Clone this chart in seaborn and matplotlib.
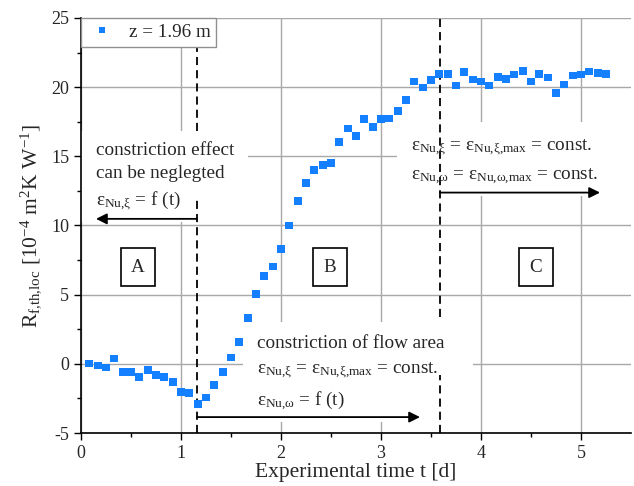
import matplotlib
matplotlib.use("Agg")
import matplotlib.pyplot as plt
from matplotlib.patches import Rectangle
import seaborn as sns
import pandas as pd

# ---- data ----
time_d = [0.083, 0.167, 0.25, 0.333, 0.417, 0.5, 0.583, 0.667, 0.75, 0.833, 0.917, 1.0,
          1.083, 1.167, 1.25, 1.333, 1.417, 1.5, 1.583, 1.667, 1.75, 1.833, 1.917, 2.0,
          2.083, 2.167, 2.25, 2.333, 2.417, 2.5, 2.583, 2.667, 2.75, 2.833, 2.917, 3.0,
          3.083, 3.167, 3.25, 3.333, 3.417, 3.5, 3.583, 3.667, 3.75, 3.833, 3.917, 4.0,
          4.083, 4.167, 4.25, 4.333, 4.417, 4.5, 4.583, 4.667, 4.75, 4.833, 4.917, 5.0,
          5.083, 5.167, 5.25]
r_f = [0.02, -0.12, -0.27, 0.39, -0.60, -0.58, -0.94, -0.43, -0.80, -0.94, -1.33, -2.05,
       -2.10, -2.92, -2.44, -1.55, -0.58, 0.46, 1.57, 3.33, 5.07, 6.33, 7.05, 8.31,
       10.0, 11.76, 13.09, 14.0, 14.36, 14.53, 16.02, 17.01, 16.45, 17.71, 17.11, 17.69,
       17.74, 18.28, 19.08, 20.41, 19.98, 20.51, 20.97, 20.97, 20.12, 21.09, 20.56, 20.41,
       20.12, 20.73, 20.58, 20.92, 21.17, 20.41, 20.95, 20.70, 19.56, 20.19, 20.83, 20.92,
       21.14, 21.02, 20.97]
series_label = "z = 1.96 m"
t_AB = 1.16
t_BC = 3.59
phase_labels = ["A", "B", "C"]
phase_x = [0.57, 2.49, 4.55]
x_ticks = [0, 1, 2, 3, 4, 5]
y_ticks = [-5, 0, 5, 10, 15, 20, 25]

df = pd.DataFrame({"t": time_d, "R": r_f, "series": series_label})

# ---- style ----
sns.set_style("ticks")
plt.rcParams["font.family"] = ["Liberation Serif", "DejaVu Serif"]
plt.rcParams["mathtext.fontset"] = "custom"
plt.rcParams["mathtext.rm"] = "Liberation Serif"
plt.rcParams["mathtext.it"] = "Liberation Serif"
plt.rcParams["mathtext.bf"] = "Liberation Serif:bold"
plt.rcParams["axes.unicode_minus"] = False

fig = plt.figure(figsize=(6.34, 4.86), dpi=100)
ax = fig.add_axes([81 / 634, 53 / 486, 550 / 634, 415 / 486])

blue = "#1580FF"
grid_c = "#a8a8a8"

sns.scatterplot(data=df, x="t", y="R", hue="series", palette=[blue], marker="s",
                s=30, edgecolor="none", linewidth=0, ax=ax, zorder=5)

ax.set_xlim(0, 5.5)
ax.set_ylim(-5, 25)
ax.set_xticks(x_ticks)
ax.set_yticks(y_ticks)
ax.set_xticks([0.5, 1.5, 2.5, 3.5, 4.5], minor=True)
ax.set_yticks([-2.5, 2.5, 7.5, 12.5, 17.5, 22.5], minor=True)
ax.tick_params(axis="both", which="major", direction="out", length=5, width=1,
               labelsize=13, color="k")
ax.tick_params(axis="both", which="minor", direction="out", length=3, width=1, color="k")
ax.tick_params(axis="x", which="both", top=False)
ax.tick_params(axis="y", which="both", right=False)

ax.grid(True, which="major", color=grid_c, lw=1.0, zorder=0.5)
ax.set_axisbelow(True)
for s in ["top", "right"]:
    ax.spines[s].set_visible(False)
for s in ["left", "bottom"]:
    ax.spines[s].set_linewidth(1.2)
    ax.spines[s].set_color("k")

ax.set_xlabel("Experimental time t [d]", fontsize=15.5, labelpad=1)
ax.set_ylabel(r"R$_{\mathrm{f{,}th{,}loc}}$ [10$^{-4}$ m$^{2}$K W$^{-1}$]", fontsize=15.5, labelpad=5)

# white masks behind annotation blocks
for (x0, y0, w, h) in [(0.0, 10.25, 1.67, 6.6), (1.62, -4.2, 2.30, 7.25), (3.16, 12.1, 2.34, 5.4)]:
    ax.add_patch(Rectangle((x0, y0), w, h, facecolor="white", edgecolor="none", zorder=1))

# phase boundaries (dashed, with gaps behind text)
dash_kw = dict(colors="k", linestyles=(0, (4.5, 2.8)), lw=1.3, zorder=3)
ax.vlines(t_AB, 16.8, 25, **dash_kw)
ax.vlines(t_AB, -5, 12.1, **dash_kw)
ax.vlines(t_BC, 3.4, 25, **dash_kw)
ax.vlines(t_BC, -5, -0.8, **dash_kw)

arrow_kw = dict(arrowstyle="-|>", color="k", lw=1.3, shrinkA=0, shrinkB=0, mutation_scale=16)
ax.annotate("", xy=(0.15, 10.48), xytext=(t_AB, 10.48), arrowprops=arrow_kw, zorder=4)
ax.annotate("", xy=(3.39, -3.85), xytext=(t_AB, -3.85), arrowprops=arrow_kw, zorder=4)
ax.annotate("", xy=(5.19, 12.38), xytext=(t_BC, 12.38), arrowprops=arrow_kw, zorder=4)

eps_xi = r"$\varepsilon_{\mathrm{Nu{,}}\xi}$"
eps_om = r"$\varepsilon_{\mathrm{Nu{,}}\omega}$"
eps_xi_max = r"$\varepsilon_{\mathrm{Nu{,}}\xi\mathrm{{,}max}}$"
eps_om_max = r"$\varepsilon_{\mathrm{Nu{,}}\omega\mathrm{{,}max}}$"

fs = 13.8
tk = dict(fontsize=fs, ha="left", va="baseline", zorder=4)
ax.text(0.15, 15.1, "constriction effect", **tk)
ax.text(0.15, 13.4, "can be neglegted", **tk)
ax.text(0.15, 11.5, eps_xi + " = f (t)", **tk)

ax.text(1.757, 1.16, "constriction of flow area", **tk)
ax.text(1.757, -0.65, eps_xi + " = " + eps_xi_max + " = const.", **tk)
ax.text(1.757, -2.96, eps_om + " = f (t)", **tk)

ax.text(3.30, 15.46, eps_xi + " = " + eps_xi_max + " = const.", **tk)
ax.text(3.30, 13.3, eps_om + " = " + eps_om_max + " = const.", **tk)

for lab, px in zip(phase_labels, phase_x):
    ax.text(px, 7.0, lab, fontsize=fs, ha="center", va="center", zorder=4,
            bbox=dict(boxstyle="square,pad=0.55", fc="white", ec="k", lw=1.2))

leg = ax.legend(loc="upper left", frameon=True, fancybox=False, fontsize=fs,
                borderaxespad=0, handletextpad=0.6, borderpad=0.3, markerscale=0.85,
                handlelength=1.6)
leg.get_frame().set_edgecolor("#909090")
leg.get_frame().set_linewidth(1.0)
leg.get_frame().set_alpha(1)
leg.set_zorder(10)

fig.savefig("out.png", dpi=100)
